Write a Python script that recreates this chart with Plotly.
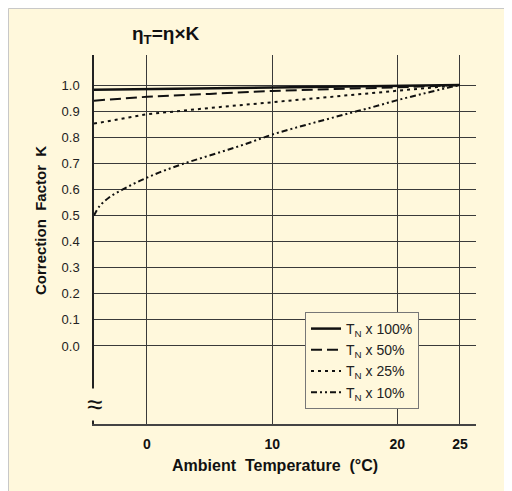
import plotly.graph_objects as go

# ambient temperature (°C) sample points
temp = [-4.23, 0, 5, 10, 15, 20, 25]
k_100 = [0.982, 0.985, 0.988, 0.991, 0.994, 0.997, 1.0]
k_50 = [0.940, 0.955, 0.966, 0.977, 0.985, 0.991, 1.0]
k_25 = [0.852, 0.888, 0.912, 0.934, 0.955, 0.977, 1.0]

temp_10 = [-4.23, -3.8, -3, -2, -1, 0, 1, 2, 3, 4, 5, 6, 7, 8, 9, 10,
           12, 14, 16, 18, 20, 22, 24, 25]
k_10 = [0.50, 0.535, 0.570, 0.598, 0.623, 0.645, 0.665, 0.683, 0.700, 0.715,
        0.730, 0.745, 0.760, 0.776, 0.793, 0.810, 0.838, 0.864, 0.890, 0.915,
        0.942, 0.966, 0.989, 1.0]

series_names = ["T<sub>N</sub> x 100%", "T<sub>N</sub> x 50%",
                "T<sub>N</sub> x 25%", "T<sub>N</sub> x 10%"]
x_ticks = [0, 10, 20, 25]
y_ticks = [0.0, 0.1, 0.2, 0.3, 0.4, 0.5, 0.6, 0.7, 0.8, 0.9, 1.0]

CREAM = "#FFF8DC"
INK = "#111111"
FONT = "Arial, Liberation Sans, sans-serif"

fig = go.Figure()
fig.add_trace(go.Scatter(x=temp, y=k_100, name=series_names[0], mode="lines",
                         line=dict(color=INK, width=2.5)))
fig.add_trace(go.Scatter(x=temp, y=k_50, name=series_names[1], mode="lines",
                         line=dict(color=INK, width=2, dash="11px,5px")))
fig.add_trace(go.Scatter(x=temp, y=k_25, name=series_names[2], mode="lines",
                         line=dict(color=INK, width=2, dash="3px,4px")))
fig.add_trace(go.Scatter(x=temp_10, y=k_10, name=series_names[3], mode="lines",
                         line=dict(color=INK, width=2, shape="spline",
                                   dash="6px,3px,2px,3px,2px,3px")))

# page has an 8px body margin; figure pixels = page pixels - 8
OFF = 8
W, H = 504, 483
L, R, T, B = 86, 36, 47, 67
pw, ph = W - L - R, H - T - B


def px_x(p):
    return (p - OFF - L) / pw


def px_y(p):
    return (H - B - (p - OFF)) / ph


def label(text, x, y, size, angle=0, bold=True):
    return dict(text=text, xref="paper", yref="paper", x=px_x(x), y=px_y(y),
                xanchor="center", yanchor="middle", showarrow=False,
                textangle=angle,
                font=dict(size=size, color="#111",
                          weight="bold" if bold else "normal"))


fig.update_layout(
    width=W, height=H,
    margin=dict(l=L, r=R, t=T, b=B),
    paper_bgcolor=CREAM,
    plot_bgcolor="rgba(0,0,0,0)",
    font=dict(family=FONT, size=13, color="#222"),
    showlegend=True,
    legend=dict(x=px_x(305), y=px_y(312), xanchor="left", yanchor="top",
                bgcolor=CREAM, bordercolor="#777", borderwidth=1,
                font=dict(size=14, color="#222"), tracegroupgap=0),
    shapes=[dict(type="rect", xref="paper", yref="paper", layer="below",
                 x0=px_x(OFF + 0.5), x1=px_x(700), y0=px_y(OFF + 0.5),
                 y1=px_y(700), line=dict(color="#c8c8c8", width=1))],
    annotations=[
        label("η<sub>T</sub>=η×K", 166, 35, 19),
        label("Ambient  Temperature  (°C)", 275, 465, 16),
        label("Correction  Factor  K", 40, 220, 15, angle=-90),
        dict(text="≈", xref="paper", yref="y", x=0, y=-0.225,
             xanchor="center", yanchor="middle",
             showarrow=False, bgcolor=CREAM, borderpad=0,
             font=dict(size=28, color="#111")),
    ],
)

fig.update_xaxes(range=[-4.23, 26.28], tickvals=x_ticks, ticks="",
                 automargin=False,
                 showgrid=True, gridcolor="#3a3a3a", gridwidth=1,
                 zeroline=False, showline=True, linecolor="#444", linewidth=2,
                 ticklabelstandoff=6,
                 tickfont=dict(size=14, color="#111", weight="bold"))
fig.update_yaxes(range=[-0.299, 1.115], tickvals=y_ticks, tickformat=".1f",
                 ticks="", automargin=False,
                 showgrid=True, gridcolor="#3a3a3a", gridwidth=1,
                 zeroline=False, showline=True, linecolor="#222", linewidth=1.5,
                 ticklabelstandoff=10,
                 tickfont=dict(size=13, color="#222"))

fig.write_html("out.html")
